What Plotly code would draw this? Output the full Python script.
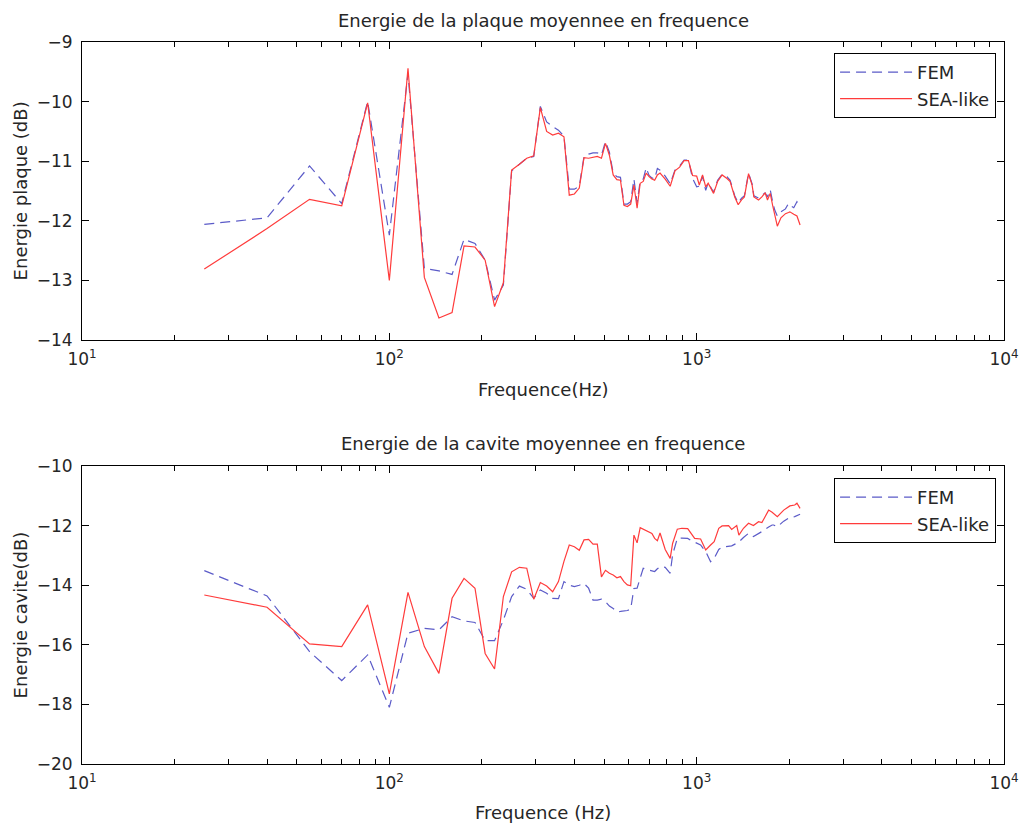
import plotly.graph_objects as go

# ---------------- data: plate energy ----------------
F_PLAQUE = [25, 40, 55, 70, 85, 100, 115, 130, 145, 160, 175, 190, 205, 220, 235, 250,
            265, 280, 295, 310, 325, 340, 355, 370, 385, 400, 415, 430, 445, 460, 475,
            490, 505, 520, 535, 550, 565, 580, 595, 610, 625, 640, 655, 670, 685, 700,
            715, 730, 745, 760, 790, 820, 850, 880, 910, 940, 970, 1000, 1020, 1045,
            1070, 1090, 1135, 1170, 1210, 1255, 1285, 1330, 1365, 1400, 1430, 1475,
            1515, 1535, 1590, 1630, 1670, 1700, 1735, 1770, 1795, 1830, 1880, 1945,
            1990, 2010, 2070, 2120, 2170]
FEM_PLAQUE = [-12.06, -11.95, -11.08, -11.71, -10.00, -12.24, -9.53, -12.80, -12.84, -12.90,
              -12.31, -12.38, -12.66, -13.33, -13.08, -11.16, -11.05, -10.95, -10.92, -10.08,
              -10.34, -10.42, -10.48, -10.58, -11.47, -11.47, -11.42, -10.92, -10.88, -10.86,
              -10.86, -10.90, -10.67, -10.85, -11.20, -11.26, -11.27, -11.72, -11.72, -11.68,
              -11.30, -11.70, -11.33, -11.30, -11.11, -11.24, -11.28, -11.30, -11.12, -11.15,
              -11.25, -11.38, -11.15, -11.08, -10.98, -10.98, -11.29, -11.43, -11.42, -11.25,
              -11.49, -11.36, -11.52, -11.32, -11.22, -11.26, -11.32, -11.58, -11.70, -11.62,
              -11.58, -11.20, -11.38, -11.58, -11.62, -11.58, -11.53, -11.60, -11.48, -11.70,
              -11.82, -11.92, -11.85, -11.80, -11.71, -11.74, -11.78, -11.68, -11.76]
SEA_PLAQUE = [-12.81, -12.13, -11.64, -11.75, -10.02, -13.00, -9.44, -12.95, -13.63, -13.54,
              -12.42, -12.44, -12.66, -13.44, -13.04, -11.15, -11.05, -10.95, -10.91, -10.10,
              -10.50, -10.56, -10.53, -10.59, -11.57, -11.55, -11.45, -10.94, -10.95, -10.93,
              -10.92, -10.95, -10.70, -10.90, -11.23, -11.31, -11.32, -11.74, -11.76, -11.72,
              -11.40, -11.79, -11.37, -11.34, -11.20, -11.26, -11.30, -11.32, -11.23, -11.20,
              -11.30, -11.42, -11.16, -11.10, -10.99, -10.99, -11.24, -11.25, -11.40, -11.23,
              -11.43, -11.37, -11.54, -11.34, -11.23, -11.29, -11.34, -11.60, -11.73, -11.65,
              -11.60, -11.21, -11.40, -11.60, -11.65, -11.60, -11.53, -11.65, -11.54, -11.76,
              -11.90, -12.09, -11.95, -11.88, -11.86, -11.85, -11.89, -11.92, -12.07]

# ---------------- data: cavity energy ----------------
F_CAVITE = [25, 40, 55, 70, 85, 100, 115, 130, 145, 160, 175, 190, 205, 220, 235, 250,
            265, 280, 295, 310, 325, 340, 355, 370, 385, 400, 415, 430, 445, 460, 475,
            490, 505, 520, 535, 550, 565, 580, 595, 610, 625, 640, 655, 670, 685, 700,
            715, 730, 745, 760, 790, 820, 835, 865, 895, 935, 960, 985, 1030, 1070, 1110,
            1140, 1180, 1210, 1270, 1300, 1350, 1372, 1420, 1475, 1530, 1590, 1630, 1715,
            1760, 1780, 1830, 1920, 2010, 2085, 2120, 2170]
FEM_CAVITE = [-13.51, -14.36, -16.23, -17.20, -16.34, -18.10, -15.61, -15.45, -15.50, -15.06,
              -15.20, -15.25, -15.86, -15.86, -15.17, -14.38, -14.03, -14.14, -14.44, -14.16,
              -14.27, -14.44, -14.45, -13.88, -14.00, -14.05, -14.00, -13.94, -14.10, -14.50,
              -14.50, -14.47, -14.55, -14.70, -14.78, -14.89, -14.88, -14.86, -14.85, -14.80,
              -14.11, -14.10, -13.80, -13.43, -13.47, -13.49, -13.52, -13.54, -13.45, -13.38,
              -13.40, -13.60, -12.98, -12.43, -12.42, -12.43, -12.50, -12.55, -12.65, -12.87,
              -13.21, -13.10, -12.80, -12.72, -12.70, -12.68, -12.59, -12.55, -12.40, -12.26,
              -12.37, -12.25, -12.20, -12.05, -11.98, -11.98, -12.04, -11.85, -11.72, -11.70,
              -11.66, -11.62]
SEA_CAVITE = [-14.33, -14.74, -15.97, -16.06, -14.66, -17.65, -14.24, -16.06, -16.96, -14.44,
              -13.77, -14.10, -16.29, -16.81, -14.38, -13.55, -13.40, -13.43, -14.47, -13.91,
              -14.03, -14.22, -13.88, -13.20, -12.65, -12.71, -12.83, -12.48, -12.46, -12.62,
              -12.62, -13.72, -13.50, -13.60, -13.66, -13.75, -13.71, -13.88, -13.99, -14.02,
              -12.32, -12.58, -12.07, -12.12, -12.15, -12.21, -12.26, -12.43, -12.51, -12.25,
              -12.80, -13.10, -12.60, -12.12, -12.09, -12.10, -12.28, -12.43, -12.45, -12.82,
              -12.65, -12.54, -12.09, -12.01, -12.00, -12.13, -12.00, -12.32, -12.09, -11.92,
              -12.00, -11.87, -11.90, -11.48, -11.55, -11.60, -11.70, -11.48, -11.34, -11.31,
              -11.25, -11.42]

SERIES_NAMES = ["FEM", "SEA-like"]
X_TICKS = [10, 100, 1000, 10000]
X_TICKTEXT = ["10<sup>1</sup>", "10<sup>2</sup>", "10<sup>3</sup>", "10<sup>4</sup>"]
TITLES = ["Energie de la plaque moyennee en frequence", "Energie de la cavite moyennee en frequence"]
X_TITLES = ["Frequence(Hz)", "Frequence (Hz)"]
Y_TITLES = ["Energie plaque (dB)", "Energie cavite(dB)"]

FEM_COLOR = "#5b5bc8"
SEA_COLOR = "#ff3b3b"
FONT = "DejaVu Sans, Arial, sans-serif"
FS = 18
FS_TICK = 17
TXT = "#262626"

minor_vals = [m * 10 ** e for e in range(1, 4) for m in range(2, 10)]

fig = go.Figure()
fig.add_trace(go.Scatter(x=F_PLAQUE, y=FEM_PLAQUE, mode="lines", name=SERIES_NAMES[0],
                         line=dict(color=FEM_COLOR, width=1.2, dash="10px,6px"),
                         xaxis="x", yaxis="y", legend="legend"))
fig.add_trace(go.Scatter(x=F_PLAQUE, y=SEA_PLAQUE, mode="lines", name=SERIES_NAMES[1],
                         line=dict(color=SEA_COLOR, width=1.2),
                         xaxis="x", yaxis="y", legend="legend"))
fig.add_trace(go.Scatter(x=F_CAVITE, y=FEM_CAVITE, mode="lines", name=SERIES_NAMES[0],
                         line=dict(color=FEM_COLOR, width=1.2, dash="10px,6px"),
                         xaxis="x2", yaxis="y2", legend="legend2"))
fig.add_trace(go.Scatter(x=F_CAVITE, y=SEA_CAVITE, mode="lines", name=SERIES_NAMES[1],
                         line=dict(color=SEA_COLOR, width=1.2),
                         xaxis="x2", yaxis="y2", legend="legend2"))

OFF = 8  # page body margin
W, H = 1031 - OFF, 830 - OFF
ML, MT = 82 - OFF, 42 - OFF
MR, MB = 1031 - 1010, 830 - 764
PW, PH = W - ML - MR, H - MT - MB


def py(px):  # window pixel y -> paper
    return (H - MB - (px - OFF)) / PH


def pxx(px):  # window pixel x -> paper
    return ((px - OFF) - ML) / PW


xcommon = dict(type="log", range=[1, 4], tickmode="array", tickvals=X_TICKS, ticktext=X_TICKTEXT,
               ticks="inside", ticklen=7, tickcolor="black", showline=True, linecolor="black",
               linewidth=1, mirror="ticks", showgrid=False, zeroline=False,
               tickfont=dict(family=FONT, size=FS_TICK, color=TXT), ticklabelstandoff=4,
               minor=dict(tickmode="array", tickvals=minor_vals, ticks="inside", ticklen=5,
                          tickcolor="black", showgrid=False))
ycommon = dict(ticks="inside", ticklen=7, tickcolor="black", showline=True, linecolor="black",
               linewidth=1, mirror="ticks", showgrid=False, zeroline=False,
               tickfont=dict(family=FONT, size=FS_TICK, color=TXT), ticklabelstandoff=5)

legcommon = dict(x=pxx(1002), xanchor="right", yanchor="top",
                 bordercolor="black", borderwidth=1, bgcolor="white",
                 font=dict(family=FONT, size=FS, color=TXT), itemwidth=72,
                 tracegroupgap=0)

fig.update_layout(
    width=W, height=H,
    margin=dict(l=ML, r=MR, t=MT, b=MB),
    paper_bgcolor="white", plot_bgcolor="white",
    font=dict(family=FONT, size=FS, color=TXT),
    xaxis=dict(domain=[0, 1], anchor="y", **xcommon),
    yaxis=dict(domain=[py(340), 1], anchor="x", range=[-14, -9], dtick=1, **ycommon),
    xaxis2=dict(domain=[0, 1], anchor="y2", **xcommon),
    yaxis2=dict(domain=[0, py(466)], anchor="x2", range=[-20, -10], dtick=2, **ycommon),
    legend=dict(y=py(53), **legcommon),
    legend2=dict(y=py(478), **legcommon),
    showlegend=True,
)

annots = [
    dict(text=TITLES[0], x=0.5, y=py(20), textangle=0),
    dict(text=TITLES[1], x=0.5, y=py(443), textangle=0),
    dict(text=X_TITLES[0], x=0.5, y=py(390), textangle=0),
    dict(text=X_TITLES[1], x=0.5, y=py(812), textangle=0),
    dict(text=Y_TITLES[0], x=pxx(20), y=py(191), textangle=-90),
    dict(text=Y_TITLES[1], x=pxx(20), y=py(615), textangle=-90),
]
for a in annots:
    a.update(xref="paper", yref="paper", showarrow=False, xanchor="center", yanchor="middle",
             font=dict(family=FONT, size=FS, color=TXT))
fig.update_layout(annotations=annots)

fig.write_html("out.html")
